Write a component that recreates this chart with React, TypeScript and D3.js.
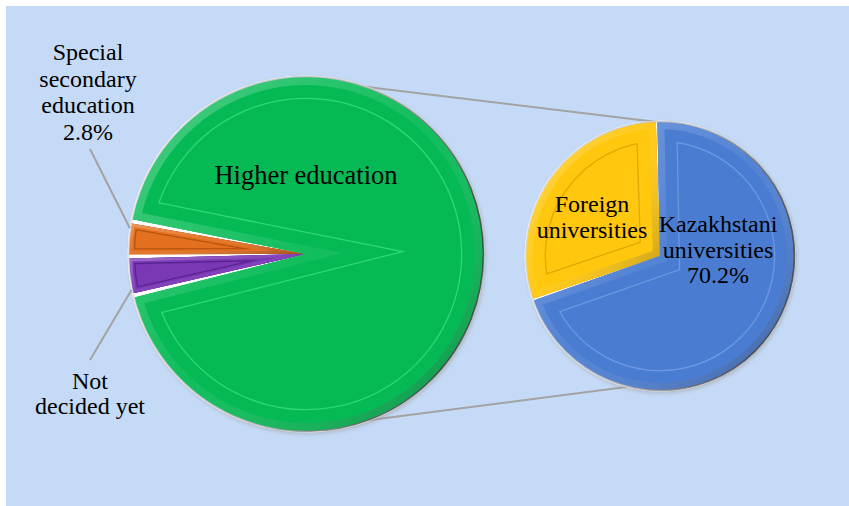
import React from "react";
import * as d3 from "d3";

const MAIN_CATEGORIES = ["Higher education", "Special secondary education", "Not decided yet"];
const MAIN_VALUES = [94.0, 2.8, 3.2];
const MAIN_ORDER = [2, 1, 0]; // drawing order around the pie
const SUB_CATEGORIES = ["Kazakhstani universities", "Foreign universities"];
const SUB_VALUES = [70.2, 29.8];
const SUB_ORDER = [1, 0];
const MAIN_LABELS = ["Higher education", "Special|secondary|education|2.8%", "Not|decided yet"];
const SUB_LABELS = ["Kazakhstani|universities|70.2%", "Foreign|universities"];

const MAIN_COLORS = ["#05BA55", "#E2701F", "#7A38B5"];
const MAIN_LINE = ["#2FD877", "#B9530F", "#5A2290"];
const SUB_COLORS = ["#4A7CD2", "#FFC70D"];
const SUB_LINE = ["#6E98E0", "#E3A800"];

const W = 849;
const H = 506;
const FONT = "Liberation Serif, Times New Roman, serif";
const deg = (d: number) => (d * Math.PI) / 180;

type Slice = { d: string; color: string; line: string; depth: number; band: number; id: string };

function BevelSlice({ s }: { s: Slice }) {
  return (
    <g>
      <clipPath id={`clip-${s.id}`}>
        <path d={s.d} />
      </clipPath>
      <path d={s.d} fill={s.color} />
      <g clipPath={`url(#clip-${s.id})`}>
        <path d={s.d} fill="none" stroke={s.line} strokeWidth={2 * s.depth} strokeLinejoin="miter" strokeMiterlimit={30} />
        <path d={s.d} fill="none" stroke={s.color} strokeWidth={2 * (s.depth - 1.3)} strokeLinejoin="miter" strokeMiterlimit={30} />
        <path d={s.d} fill="none" stroke="url(#bevelGrad)" strokeWidth={2 * s.band} strokeLinejoin="miter" strokeMiterlimit={30} />
      </g>
    </g>
  );
}

function lines(text: string, x: number, y: number, lh: number, size: number, key: string) {
  const parts = text.split("|");
  return (
    <text key={key} x={x} y={y} textAnchor="middle" style={{ fontFamily: FONT, fontSize: size }} fill="#000">
      {parts.map((p, i) => (
        <tspan key={i} x={x} dy={i === 0 ? 0 : lh}>
          {p}
        </tspan>
      ))}
    </text>
  );
}

export default function App() {
  const main = { cx: 306, cy: 254, r: 177 };
  const sub = { cx: 660, cy: 256, r: 134 };

  const mainStart = deg(256.5);
  const mainPie = d3
    .pie<number>()
    .sort(null)
    .value((i) => MAIN_VALUES[i])
    .startAngle(mainStart)
    .endAngle(mainStart + 2 * Math.PI)
    .padAngle(0.024);
  const mainArcs = mainPie(MAIN_ORDER);
  const mainArc = d3.arc<d3.PieArcDatum<number>>().innerRadius(0).outerRadius(main.r).padRadius(main.r);

  const subStart = deg(251);
  const subPie = d3
    .pie<number>()
    .sort(null)
    .value((i) => SUB_VALUES[i])
    .startAngle(subStart)
    .endAngle(subStart + 2 * Math.PI)
    .padAngle(0.012);
  const subArcs = subPie(SUB_ORDER);
  const subArc = d3.arc<d3.PieArcDatum<number>>().innerRadius(0).outerRadius(sub.r).padRadius(sub.r);

  const pt = (c: { cx: number; cy: number }, r: number, a: number): [number, number] => [
    c.cx + r * Math.sin(a),
    c.cy - r * Math.cos(a),
  ];

  const mainSlices: Slice[] = mainArcs.map((a) => ({
    d: mainArc(a) as string,
    color: MAIN_COLORS[a.data],
    line: MAIN_LINE[a.data],
    depth: a.data === 0 ? 22 : 6,
    band: a.data === 0 ? 8 : 3,
    id: `m${a.data}`,
  }));
  const subSlices: Slice[] = subArcs.map((a) => ({
    d: subArc(a) as string,
    color: SUB_COLORS[a.data],
    line: SUB_LINE[a.data],
    depth: 20,
    band: 7,
    id: `s${a.data}`,
  }));

  const special = mainArcs.find((a) => a.data === 1)!;
  const notDecided = mainArcs.find((a) => a.data === 2)!;
  const foreign = subArcs.find((a) => a.data === 1)!;

  const specialPt = pt(main, main.r + 1, special.startAngle * 0.2 + special.endAngle * 0.8);
  const notPt = pt(main, main.r + 1, notDecided.startAngle * 0.85 + notDecided.endAngle * 0.15);

  const topA = pt(main, main.r, deg(-5));
  const botA = pt(main, main.r, deg(185));
  const topB = pt(sub, sub.r, foreign.endAngle);
  const botB = pt(sub, sub.r, deg(193));

  return (
    <svg width={W} height={H} style={{ position: "fixed", left: 0, top: 0 }}>
      <defs>
        <linearGradient id="bevelGrad" gradientUnits="objectBoundingBox" x1="0" y1="0" x2="1" y2="1">
          <stop offset="0" stopColor="#ffffff" stopOpacity={0.28} />
          <stop offset="0.5" stopColor="#ffffff" stopOpacity={0.05} />
          <stop offset="1" stopColor="#000000" stopOpacity={0.3} />
        </linearGradient>
        <linearGradient id="rimGrad" x1="0" y1="0" x2="1" y2="0.3">
          <stop offset="0" stopColor="#e8e8e8" />
          <stop offset="0.6" stopColor="#b0b0b0" />
          <stop offset="1" stopColor="#303030" />
        </linearGradient>
        <filter id="blur" x="-20%" y="-20%" width="140%" height="140%">
          <feGaussianBlur stdDeviation="2" />
        </filter>
      </defs>
      <rect x={6} y={6} width={W - 6} height={H - 6} fill="#C5DAF6" />

      {/* connector lines */}
      <line x1={topA[0]} y1={topA[1]} x2={topB[0]} y2={topB[1]} stroke="#A3A3A3" strokeWidth={2} />
      <line x1={botA[0]} y1={botA[1]} x2={botB[0]} y2={botB[1]} stroke="#A3A3A3" strokeWidth={2} />

      {/* main pie */}
      <circle cx={main.cx + 1.5} cy={main.cy + 2} r={main.r + 1} fill="#9a9a9a" opacity={0.6} filter="url(#blur)" />
      <circle cx={main.cx} cy={main.cy} r={main.r + 1.5} fill="#ffffff" />
      <g transform={`translate(${main.cx},${main.cy})`}>
        {mainSlices.map((s) => (
          <BevelSlice key={s.id} s={s} />
        ))}
      </g>
      <circle cx={main.cx} cy={main.cy} r={main.r + 0.5} fill="none" stroke="url(#rimGrad)" strokeWidth={1.6} opacity={0.8} />

      {/* sub pie */}
      <circle cx={sub.cx + 1.5} cy={sub.cy + 2} r={sub.r + 1} fill="#9a9a9a" opacity={0.6} filter="url(#blur)" />
      <circle cx={sub.cx} cy={sub.cy} r={sub.r + 1.5} fill="#ffffff" />
      <g transform={`translate(${sub.cx},${sub.cy})`}>
        {subSlices.map((s) => (
          <BevelSlice key={s.id} s={s} />
        ))}
      </g>
      <circle cx={sub.cx} cy={sub.cy} r={sub.r + 0.5} fill="none" stroke="url(#rimGrad)" strokeWidth={1.6} opacity={0.8} />

      {/* leader lines */}
      <line x1={90} y1={149} x2={specialPt[0]} y2={specialPt[1]} stroke="#A3A3A3" strokeWidth={2} />
      <line x1={90} y1={360} x2={notPt[0]} y2={notPt[1]} stroke="#A3A3A3" strokeWidth={2} />

      {/* labels */}
      {lines(MAIN_LABELS[0], main.cx, 184, 26, 26.5, "l0")}
      {lines(MAIN_LABELS[1], 88, 60, 26.5, 24, "l1")}
      {lines(MAIN_LABELS[2], 90, 389, 25, 24, "l2")}
      {lines(SUB_LABELS[0], 718, 232, 25.5, 24, "s0")}
      {lines(SUB_LABELS[1], 592, 212, 26, 24, "s1")}
    </svg>
  );
}
